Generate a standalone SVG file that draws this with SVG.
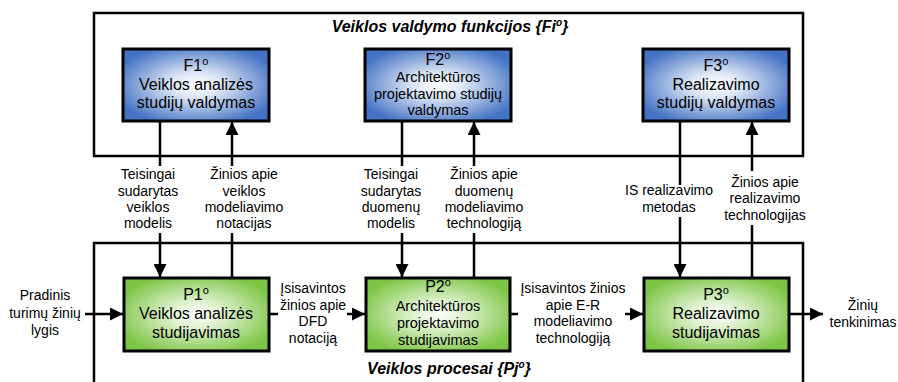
<svg xmlns="http://www.w3.org/2000/svg" width="898" height="382" viewBox="0 0 898 382">
<defs>
<radialGradient id="gBlue" cx="50%" cy="50%" r="58%">
<stop offset="0" stop-color="#ffffff"/>
<stop offset="0.3" stop-color="#dce6f5"/>
<stop offset="1" stop-color="#4472c4"/>
</radialGradient>
<radialGradient id="gGreen" cx="50%" cy="50%" r="58%">
<stop offset="0" stop-color="#ffffff"/>
<stop offset="0.3" stop-color="#e0f2d1"/>
<stop offset="1" stop-color="#7cc443"/>
</radialGradient>
<marker id="ah" viewBox="0 0 10 10" refX="10" refY="5" markerWidth="14" markerHeight="13" markerUnits="userSpaceOnUse" orient="auto">
<path d="M0,0 L10,5 L0,10 Z" fill="#000"/>
</marker>
<style>
.frame{fill:none;stroke:#000;stroke-width:2.5}
.fbox{fill:url(#gBlue);stroke:#000;stroke-width:3}
.pbox{fill:url(#gGreen);stroke:#000;stroke-width:3}
.ln{fill:none;stroke:#000;stroke-width:2.5}
.arr{fill:none;stroke:#000;stroke-width:2.5;marker-end:url(#ah)}
text{font-family:"Liberation Sans",Arial,sans-serif;fill:#000;text-anchor:middle}
.t16{font-size:16px}
.t14{font-size:14.5px}
.lb{font-size:14px}
.ttl{font-size:16px;font-weight:bold;font-style:italic}
</style>
</defs>

<g id="frame-functions">
<rect class="frame" x="94" y="13" width="709" height="143"/>
<text class="ttl" x="450" y="32">Veiklos valdymo funkcijos {Fi<tspan dy="-6" font-size="10">o</tspan><tspan dy="6">}</tspan></text>
</g>
<g id="frame-processes">
<rect class="frame" x="94" y="243" width="709" height="200"/>
<text class="ttl" x="449" y="374">Veiklos procesai {Pj<tspan dy="-6" font-size="10">o</tspan><tspan dy="6">}</tspan></text>
</g>

<g id="F1">
<rect class="fbox" x="123" y="49" width="146" height="72"/>
<text class="t16" x="196" y="71">F1<tspan dy="-6" font-size="11">o</tspan></text>
<text class="t16" x="196" y="90">Veiklos analizės</text>
<text class="t16" x="196" y="108">studijų valdymas</text>
</g>
<g id="F2">
<rect class="fbox" x="365" y="49" width="146" height="72"/>
<text class="t16" x="438" y="65">F2<tspan dy="-6" font-size="11">o</tspan></text>
<text class="t14" x="438" y="82">Architektūros</text>
<text class="t14" x="438" y="99">projektavimo studijų</text>
<text class="t14" x="438" y="115">valdymas</text>
</g>
<g id="F3">
<rect class="fbox" x="643" y="49" width="146" height="72"/>
<text class="t16" x="716" y="71">F3<tspan dy="-6" font-size="11">o</tspan></text>
<text class="t16" x="716" y="90">Realizavimo</text>
<text class="t16" x="716" y="108">studijų valdymas</text>
</g>

<g id="P1">
<rect class="pbox" x="124" y="278" width="145" height="73"/>
<text class="t16" x="196" y="300">P1<tspan dy="-6" font-size="11">o</tspan></text>
<text class="t16" x="196" y="319">Veiklos analizės</text>
<text class="t16" x="196" y="338">studijavimas</text>
</g>
<g id="P2">
<rect class="pbox" x="366" y="278" width="144" height="73"/>
<text class="t16" x="438" y="292">P2<tspan dy="-6" font-size="11">o</tspan></text>
<text class="t14" x="438" y="311">Architektūros</text>
<text class="t14" x="438" y="328">projektavimo</text>
<text class="t14" x="438" y="345">studijavimas</text>
</g>
<g id="P3">
<rect class="pbox" x="644" y="278" width="145" height="73"/>
<text class="t16" x="716" y="300">P3<tspan dy="-6" font-size="11">o</tspan></text>
<text class="t16" x="716" y="319">Realizavimo</text>
<text class="t16" x="716" y="338">studijavimas</text>
</g>

<g id="connectors">
<line class="ln" x1="160" y1="121" x2="160" y2="166"/>
<line class="arr" x1="160" y1="233" x2="160" y2="277"/>
<line class="ln" x1="232" y1="278" x2="232" y2="233"/>
<line class="arr" x1="232" y1="166" x2="232" y2="122"/>
<line class="ln" x1="402" y1="121" x2="402" y2="166"/>
<line class="arr" x1="402" y1="233" x2="402" y2="277"/>
<line class="ln" x1="474" y1="278" x2="474" y2="233"/>
<line class="arr" x1="474" y1="166" x2="474" y2="122"/>
<line class="ln" x1="680" y1="121" x2="680" y2="185"/>
<line class="arr" x1="680" y1="217" x2="680" y2="277"/>
<line class="ln" x1="752" y1="278" x2="752" y2="225"/>
<line class="arr" x1="752" y1="171" x2="752" y2="122"/>
<line class="arr" x1="85" y1="314" x2="123" y2="314"/>
<line class="ln" x1="269" y1="314" x2="278" y2="314"/>
<line class="arr" x1="347" y1="314" x2="365" y2="314"/>
<line class="ln" x1="510" y1="314" x2="518" y2="314"/>
<line class="arr" x1="625" y1="314" x2="643" y2="314"/>
<line class="arr" x1="789" y1="314" x2="823" y2="314"/>

<g id="labels">
<text class="lb" x="148" y="179">Teisingai</text>
<text class="lb" x="148" y="196">sudarytas</text>
<text class="lb" x="148" y="212">veiklos</text>
<text class="lb" x="148" y="228">modelis</text>

<text class="lb" x="244" y="179">Žinios apie</text>
<text class="lb" x="244" y="196">veiklos</text>
<text class="lb" x="244" y="212">modeliavimo</text>
<text class="lb" x="244" y="228">notacijas</text>

<text class="lb" x="391" y="179">Teisingai</text>
<text class="lb" x="391" y="196">sudarytas</text>
<text class="lb" x="391" y="212">duomenų</text>
<text class="lb" x="391" y="228">modelis</text>

<text class="lb" x="484" y="179">Žinios apie</text>
<text class="lb" x="484" y="196">duomenų</text>
<text class="lb" x="484" y="212">modeliavimo</text>
<text class="lb" x="484" y="228">technologiją</text>

<text class="lb" x="669" y="195">IS realizavimo</text>
<text class="lb" x="669" y="212">metodas</text>

<text class="lb" x="765" y="187">Žinios apie</text>
<text class="lb" x="765" y="203">realizavimo</text>
<text class="lb" x="765" y="220">technologijas</text>

<text class="lb" x="45" y="300">Pradinis</text>
<text class="lb" x="45" y="318">turimų žinių</text>
<text class="lb" x="45" y="335">lygis</text>

<text class="lb" x="313" y="293">Įsisavintos</text>
<text class="lb" x="313" y="310">žinios apie</text>
<text class="lb" x="313" y="326">DFD</text>
<text class="lb" x="313" y="343">notaciją</text>

<text class="lb" x="573" y="293">Įsisavintos žinios</text>
<text class="lb" x="573" y="310">apie E-R</text>
<text class="lb" x="573" y="326">modeliavimo</text>
<text class="lb" x="573" y="343">technologiją</text>

<text class="lb" x="863" y="310">Žinių</text>
<text class="lb" x="863" y="327">tenkinimas</text>
</g>
</g>
</svg>
